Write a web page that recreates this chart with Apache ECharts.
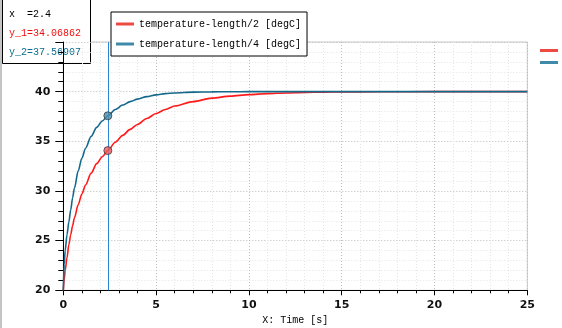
<!DOCTYPE html>
<html>
<head>
<meta charset="utf-8">
<script src="https://cdn.jsdelivr.net/npm/echarts@6/dist/echarts.min.js"></script>
<style>
  html, body { margin: 0; padding: 0; background: #fff; }
  #chart { width: 562px; height: 328px; }
</style>
</head>
<body>
<div id="chart"></div>
<script>
// Simulation time [s]
const time = [0, 0.05, 0.1, 0.2, 0.3, 0.4, 0.5, 0.6, 0.8, 1.0, 1.2, 1.5, 1.8, 2.1, 2.4, 2.8, 3.2, 3.6, 4.0, 4.5, 5.0, 5.5, 6.0, 7.0, 8.0, 9.0, 10, 11, 12, 13, 14, 15, 17, 20, 25];
// temperature at length/2 [degC]
const tempHalf = [20, 21.1, 22.0, 23.3, 24.6, 25.6, 26.5, 27.3, 28.6, 29.7, 30.6, 31.8, 32.75, 33.45, 34.06862, 34.9, 35.6, 36.2, 36.7, 37.3, 37.8, 38.2, 38.55, 39.0, 39.35, 39.55, 39.7, 39.8, 39.87, 39.92, 39.95, 39.97, 39.99, 40, 40];
// temperature at length/4 [degC]
const tempQuarter = [20, 22.6, 24.0, 25.6, 26.9, 28.1, 29.3, 30.3, 32.0, 33.3, 34.3, 35.5, 36.4, 37.05, 37.56907, 38.2, 38.65, 39.0, 39.25, 39.5, 39.68, 39.8, 39.87, 39.95, 39.98, 39.99, 40, 40, 40, 40, 40, 40, 40, 40, 40];
// Cursor position (index into time)
const cursorIndex = 14;

const seriesNames = ['temperature-length/2 [degC]', 'temperature-length/4 [degC]'];
const lineColors = ['#ff1a1a', '#14698b'];
const legendColors = ['#ef4a42', '#3f8aa8'];
const markerColors = ['#f05a5a', '#4a8fab'];
const xTicks = { min: 0, max: 25, interval: 5 };
const yTicks = { min: 20, max: 45, interval: 5 };

const chart = echarts.init(document.getElementById('chart'), null, { renderer: 'canvas' });

const toPairs = (ys) => time.map((t, i) => [t, ys[i]]);
const cx = time[cursorIndex];
const cy1 = tempHalf[cursorIndex];
const cy2 = tempQuarter[cursorIndex];

const monoFont = '"Liberation Mono", "DejaVu Sans Mono", monospace';
const labelFont = '"DejaVu Sans", sans-serif';

const option = {
  animation: false,
  backgroundColor: '#ffffff',
  grid: {
    left: 63.3, right: 34.7, top: 42, bottom: 37.7,
    outerBoundsMode: 'none', containLabel: false,
    show: true, borderColor: '#c8c8c8', borderWidth: 1, backgroundColor: '#ffffff'
  },
  xAxis: {
    type: 'value', min: xTicks.min, max: xTicks.max, interval: xTicks.interval,
    name: 'X: Time [s]', nameLocation: 'middle', nameGap: 24,
    nameTextStyle: { fontFamily: monoFont, fontSize: 10, color: '#000' },
    axisLine: { show: true, onZero: false, lineStyle: { color: '#000', width: 1 } },
    axisTick: { show: true, length: 5, lineStyle: { color: '#000' } },
    minorTick: { show: true, splitNumber: 5, length: 3, lineStyle: { color: '#000' } },
    axisLabel: { fontFamily: labelFont, fontWeight: 'bold', fontSize: 11, color: '#111', margin: 9 },
    splitLine: { show: true, lineStyle: { color: '#bdbdbd', type: [1, 2] } },
    minorSplitLine: { show: true, lineStyle: { color: '#e4e4e4', type: [1, 2] } }
  },
  yAxis: {
    type: 'value', min: yTicks.min, max: yTicks.max, interval: yTicks.interval,
    axisLine: { show: true, onZero: false, lineStyle: { color: '#000', width: 1 } },
    axisTick: { show: true, length: 8, lineStyle: { color: '#000' } },
    minorTick: { show: true, splitNumber: 5, length: 5, lineStyle: { color: '#000' } },
    axisLabel: { fontFamily: labelFont, fontWeight: 'bold', fontSize: 11, color: '#111', margin: 13, showMaxLabel: false },
    splitLine: { show: true, lineStyle: { color: '#bdbdbd', type: [1, 2] } },
    minorSplitLine: { show: true, lineStyle: { color: '#e4e4e4', type: [1, 2] } }
  },
  legend: [
    {
      orient: 'vertical', left: 111, top: 12,
      data: seriesNames.map((n, i) => ({ name: n, itemStyle: { color: legendColors[i] } })),
      icon: 'rect', itemWidth: 18, itemHeight: 3, itemGap: 6,
      padding: [5, 6, 5, 5],
      backgroundColor: '#ffffff', borderColor: '#000', borderWidth: 1,
      textStyle: { fontFamily: monoFont, fontSize: 10, color: '#000', lineHeight: 14 },
      selectedMode: false
    },
    {
      orient: 'vertical', left: 540, top: 49,
      data: seriesNames.map((n, i) => ({ name: n, itemStyle: { color: legendColors[i] } })),
      icon: 'rect', itemWidth: 18, itemHeight: 3, itemGap: 9,
      padding: 0,
      formatter: () => '',
      textStyle: { fontSize: 1, lineHeight: 3 },
      selectedMode: false
    }
  ],
  series: [
    {
      name: seriesNames[0], type: 'line', data: toPairs(tempHalf),
      showSymbol: false, smooth: 0.3, smoothMonotone: 'x',
      lineStyle: { color: lineColors[0], width: 1.6 }, itemStyle: { color: lineColors[0] },
      markLine: {
        silent: true, symbol: 'none', label: { show: false },
        lineStyle: { color: '#2a86d8', width: 1, type: 'solid' },
        data: [{ xAxis: cx }]
      },
      z: 3
    },
    {
      name: seriesNames[1], type: 'line', data: toPairs(tempQuarter),
      showSymbol: false, smooth: 0.3, smoothMonotone: 'x',
      lineStyle: { color: lineColors[1], width: 1.6 }, itemStyle: { color: lineColors[1] },
      z: 3
    },
    {
      name: 'cursor', type: 'scatter', symbolSize: 8, z: 5,
      data: [
        { value: [cx, cy1], itemStyle: { color: markerColors[0] } },
        { value: [cx, cy2], itemStyle: { color: markerColors[1] } }
      ],
      itemStyle: { borderColor: '#3a3a3a', borderWidth: 1 }
    }
  ],
  graphic: [
    { type: 'rect', left: 0, top: 0, shape: { width: 2, height: 328 }, style: { fill: '#c4c4c4' }, z: 100 },
    {
      type: 'group', left: 2, top: -1, z: 101,
      children: [
        { type: 'rect', shape: { x: 0.5, y: 0.5, width: 88, height: 64 }, style: { fill: '#fff', stroke: '#000', lineWidth: 1 } },
        { type: 'text', x: 7, y: 10, style: { text: 'x  =' + cx, font: '10px ' + monoFont, fill: '#000' } },
        { type: 'text', x: 7, y: 29, style: { text: 'y_1=' + cy1.toFixed(5), font: '10px ' + monoFont, fill: '#f01010' } },
        { type: 'text', x: 7, y: 48, style: { text: 'y_2=' + cy2.toFixed(5), font: '10px ' + monoFont, fill: '#0b6e8e' } }
      ]
    }
  ]
};

chart.setOption(option);
</script>
</body>
</html>
